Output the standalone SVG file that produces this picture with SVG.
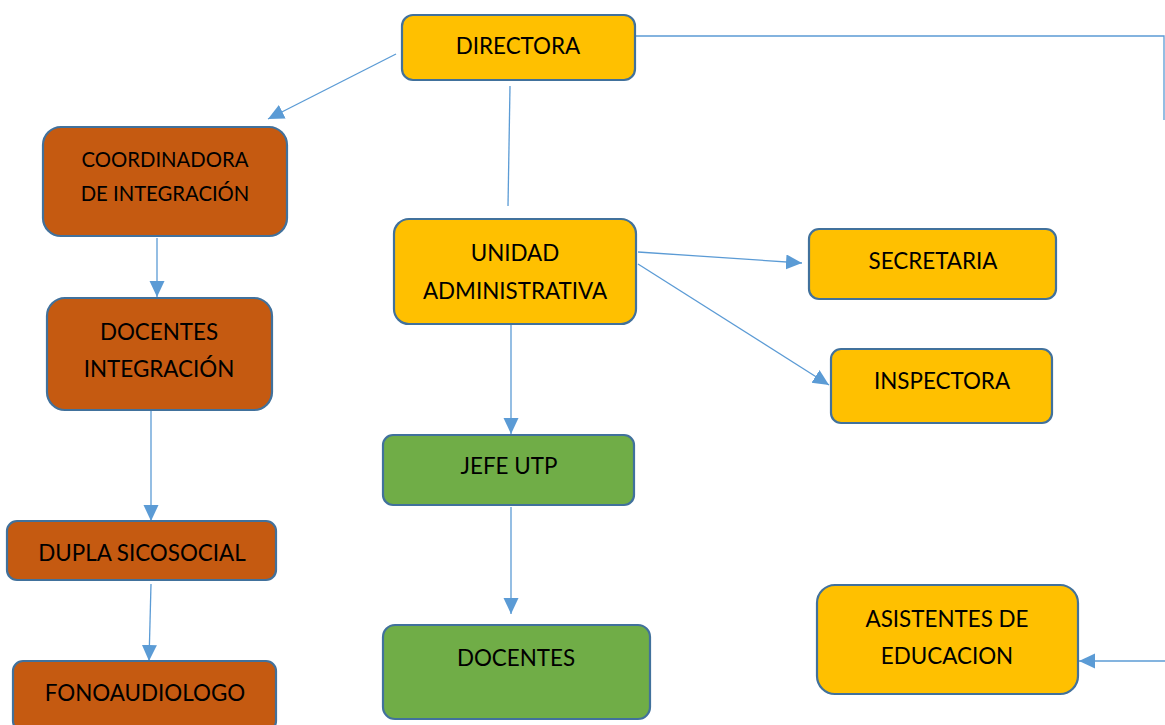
<svg xmlns="http://www.w3.org/2000/svg" width="1165" height="725" viewBox="0 0 1165 725">
<style>
.n{stroke:#41719C;stroke-width:2.2}
.y{fill:#FFC000}.o{fill:#C55A11}.g{fill:#70AD47}
text{font-family:Lato,"Liberation Sans",sans-serif;font-size:22.4px;fill:#000;text-anchor:middle}
text.s{font-size:20.3px}
.c{stroke:#5B9BD5;stroke-width:1.3;fill:none}
</style>
<defs>
<marker id="a" markerUnits="userSpaceOnUse" markerWidth="18" markerHeight="16" refX="16" refY="7.5" orient="auto">
<path d="M0,0 L16,7.5 L0,15 z" fill="#5B9BD5"/>
</marker>
</defs>
<g id="connectors">
<line class="c" x1="396" y1="54" x2="268" y2="119" marker-end="url(#a)"/>
<line class="c" x1="510" y1="86" x2="508" y2="206"/>
<polyline class="c" points="635,36 1164,36 1164,120"/>
<line class="c" x1="1165" y1="661" x2="1079" y2="661" marker-end="url(#a)"/>
<line class="c" x1="157" y1="238" x2="157" y2="297" marker-end="url(#a)"/>
<line class="c" x1="151" y1="411" x2="151" y2="521" marker-end="url(#a)"/>
<line class="c" x1="151" y1="584" x2="149" y2="661" marker-end="url(#a)"/>
<line class="c" x1="638" y1="252" x2="802" y2="263" marker-end="url(#a)"/>
<line class="c" x1="638" y1="264" x2="829" y2="385" marker-end="url(#a)"/>
<line class="c" x1="511" y1="325" x2="511" y2="434" marker-end="url(#a)"/>
<line class="c" x1="511" y1="507" x2="511" y2="614" marker-end="url(#a)"/>
</g>
<g id="directora"><rect class="n y" x="402" y="15" width="233" height="65" rx="11"/><text x="518" y="54">DIRECTORA</text></g>
<g id="coordinadora"><rect class="n o" x="43" y="127" width="244" height="109" rx="18"/><text class="s" x="165" y="167">COORDINADORA</text><text class="s" x="165" y="201">DE INTEGRACIÓN</text></g>
<g id="docentes-integracion"><rect class="n o" x="47" y="298" width="225" height="112" rx="18"/><text x="159" y="340">DOCENTES</text><text x="159" y="377">INTEGRACIÓN</text></g>
<g id="dupla"><rect class="n o" x="7" y="521" width="269" height="59" rx="10"/><text x="142" y="561">DUPLA SICOSOCIAL</text></g>
<g id="fonoaudiologo"><rect class="n o" x="13" y="661" width="263" height="70" rx="10"/><text x="145" y="701">FONOAUDIOLOGO</text></g>
<g id="unidad"><rect class="n y" x="394" y="219" width="242" height="105" rx="15"/><text x="515" y="261">UNIDAD</text><text x="515" y="299">ADMINISTRATIVA</text></g>
<g id="secretaria"><rect class="n y" x="809" y="229" width="247" height="70" rx="10"/><text x="933" y="269">SECRETARIA</text></g>
<g id="inspectora"><rect class="n y" x="831" y="349" width="221" height="74" rx="10"/><text x="942" y="389">INSPECTORA</text></g>
<g id="jefe-utp"><rect class="n g" x="383" y="435" width="251" height="70" rx="10"/><text x="509" y="474">JEFE UTP</text></g>
<g id="docentes"><rect class="n g" x="383" y="625" width="267" height="94" rx="12"/><text x="516" y="666">DOCENTES</text></g>
<g id="asistentes"><rect class="n y" x="817" y="585" width="261" height="109" rx="18"/><text x="947" y="627">ASISTENTES DE</text><text x="947" y="664">EDUCACION</text></g>
</svg>
